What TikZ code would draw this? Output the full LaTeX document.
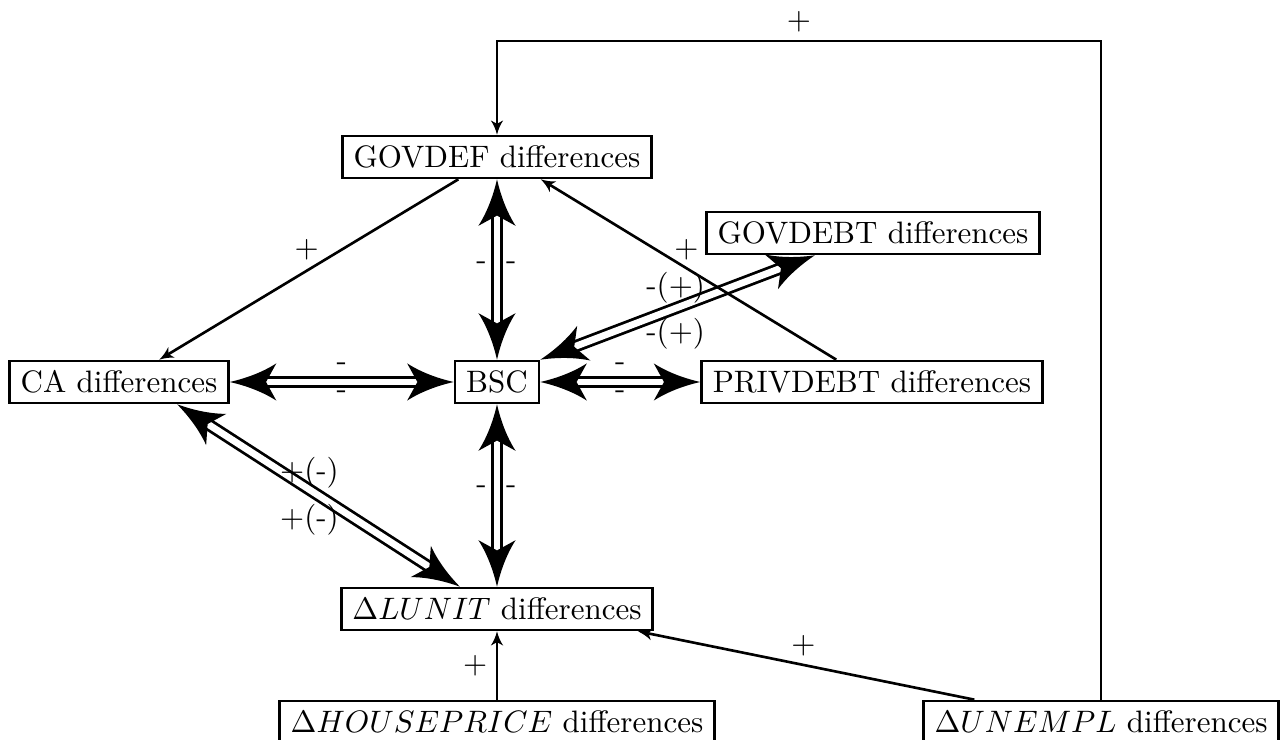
\documentclass[tikz,border=0pt]{standalone}
\usetikzlibrary{arrows.meta}
\pgfdeclarearrow{
  name = CStealth,
  parameters = {\the\pgfarrowlength,\the\pgfarrowwidth,\the\pgfarrowinset},
  setup code = {
    \pgfarrowssettipend{0pt}
    \pgfarrowssetbackend{-\pgfarrowlength}
    \dimen0=\pgfarrowinset
    \advance\dimen0 by -\pgfarrowlength
    \pgfarrowssetlineend{\dimen0}
    \pgfarrowssetvisualbackend{\dimen0}
    \pgfarrowshullpoint{0pt}{0pt}
    \pgfarrowsupperhullpoint{-\pgfarrowlength}{.5\pgfarrowwidth}
    \pgfarrowssavethe\pgfarrowlength
    \pgfarrowssavethe\pgfarrowwidth
    \pgfarrowssavethe\pgfarrowinset
  },
  drawing code = {
    \pgfpathmoveto{\pgfqpoint{0pt}{0pt}}
    \pgfpathcurveto{\pgfpoint{-.35\pgfarrowlength}{.1\pgfarrowwidth}}{\pgfpoint{-.7\pgfarrowlength}{.26\pgfarrowwidth}}{\pgfpoint{-\pgfarrowlength}{.5\pgfarrowwidth}}
    \pgfpathlineto{\pgfpoint{\pgfarrowinset-\pgfarrowlength}{0pt}}
    \pgfpathlineto{\pgfpoint{-\pgfarrowlength}{-.5\pgfarrowwidth}}
    \pgfpathcurveto{\pgfpoint{-.7\pgfarrowlength}{-.26\pgfarrowwidth}}{\pgfpoint{-.35\pgfarrowlength}{-.1\pgfarrowwidth}}{\pgfqpoint{0pt}{0pt}}
    \pgfpathclose
    \pgfusepathqfill
  },
  defaults = {length=15pt, width=11.5pt, inset=3.5pt}
}
\begin{document}
\begin{tikzpicture}[x=0.3226pt, y=-0.3226pt,
  box/.style={draw, line width=0.9pt, inner xsep=3.6pt, inner ysep=3.3pt, text height=6.9pt, text depth=0pt},
  dbl/.style={double, line width=0.9pt, double distance=2.2pt, >={CStealth[length=15pt,width=12pt,inset=3.3pt]}, <->},
  sarr/.style={line width=0.85pt, >={CStealth[length=4.6pt,width=4pt,inset=1.1pt]}, ->},
  lbl/.style={inner sep=0pt}]
\useasboundingbox (0,0) rectangle (1288,740);
\node[box] (GOVDEF) at (497,157) {GOVDEF differences};
\node[box] (GOVDEBT) at (873,233) {GOVDEBT differences};
\node[box] (CA) at (119,382) {CA differences};
\node[box] (BSC) at (497,382) {BSC};
\node[box] (PRIVDEBT) at (872,382) {PRIVDEBT differences};
\node[box] (LUNIT) at (497,609) {$\Delta LUNIT$ differences};
\node[box] (HP) at (497,722) {$\Delta HOUSEPRICE$ differences};
\node[box] (UNEMPL) at (1101,722) {$\Delta UNEMPL$ differences};
\coordinate (topR) at (1101,41);
\coordinate (topL) at (497,41);
% double arrows
\draw[dbl] (GOVDEF) -- (BSC)
  node[lbl, pos=0.48, xshift=-5pt] (l1) {-}
  node[lbl, pos=0.48, xshift=4.6pt] (l2) {-};
\draw[dbl] (CA) -- (BSC)
  node[lbl, pos=0.5, yshift=5pt] (l3) {-}
  node[lbl, pos=0.5, yshift=-4pt] (l4) {-};
\draw[dbl] (BSC) -- (PRIVDEBT)
  node[lbl, pos=0.5, yshift=5pt] (l5) {-}
  node[lbl, pos=0.5, yshift=-4pt] (l6) {-};
\draw[dbl] (BSC) -- (LUNIT)
  node[lbl, pos=0.47, xshift=-5pt] (l7) {-}
  node[lbl, pos=0.47, xshift=4.6pt] (l8) {-};
\draw[dbl] (BSC.north east) -- (GOVDEBT.201)
  node[lbl, pos=0.493, yshift=6.7pt] (l9) {-(+)}
  node[lbl, pos=0.493, yshift=-8.2pt] (l10) {-(+)};
\draw[dbl] (CA.-21) -- (LUNIT.149)
  node[lbl, pos=0.468, yshift=5.4pt] (l11) {+(-)}
  node[lbl, pos=0.468, yshift=-9.7pt] (l12) {+(-)};
% single arrows
\draw[sarr] (GOVDEF.210) -- (CA.29) node[lbl, pos=0.507, yshift=6.8pt] (l13) {+};
\draw[sarr] (PRIVDEBT.148) -- (GOVDEF.-27) node[lbl, pos=0.507, yshift=6pt] (l14) {+};
\draw[sarr] (UNEMPL.170) -- (LUNIT.-9.5) node[lbl, pos=0.508, yshift=6.3pt] (l15) {+};
\draw[sarr] (HP) -- (LUNIT) node[lbl, midway, xshift=-7pt] (l16) {+};
\draw[sarr] (UNEMPL) -- (topR) -- (topL) node[lbl, midway, yshift=6.1pt] (l17) {+} -- (GOVDEF);
\end{tikzpicture}
\end{document}
